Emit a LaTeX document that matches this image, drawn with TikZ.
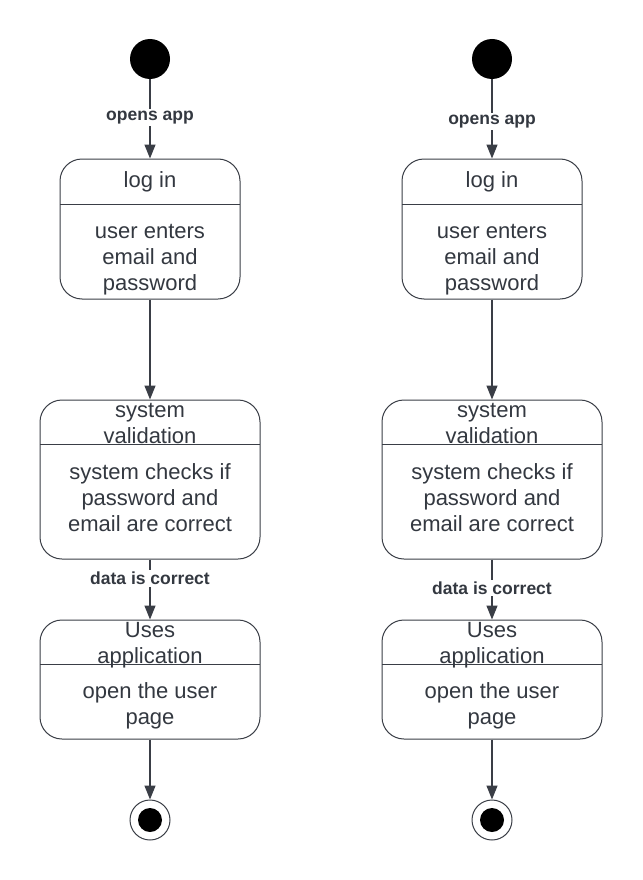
\documentclass[tikz,border=0pt]{standalone}
\usepackage{fontspec}
\setmainfont{Liberation Sans}
\usetikzlibrary{arrows.meta}
\definecolor{ink}{RGB}{51,56,64}
\definecolor{edgec}{RGB}{58,62,70}
\begin{document}
\begin{tikzpicture}[x=1pt,y=-1pt,
  statebox/.style={draw=edgec, line width=1pt, rounded corners=22pt, inner sep=0pt},
  divline/.style={draw=edgec, line width=1pt},
  ttl/.style={font=\fontsize{22}{26}\selectfont, text=ink, align=center, anchor=base, inner sep=0pt},
  lbl/.style={font=\fontsize{17.5}{20}\selectfont\bfseries, text=ink, fill=white, inner sep=2pt},
  flow/.style={draw=edgec, line width=1.3pt, -{Triangle[length=14pt,width=11pt]}},
  initst/.style={circle, fill=black, minimum size=40pt, inner sep=0pt},
  finst/.style={circle, draw=edgec, line width=1pt, minimum size=40pt, inner sep=0pt},
  finin/.style={circle, fill=black, minimum size=24pt, inner sep=0pt}]
\useasboundingbox (0,0) rectangle (642,880);
\fill[white] (0,0) rectangle (642,880);

% ---------- left diagram ----------
\node[initst] (initL) at (150,59) {};
\node[statebox, minimum width=180pt, minimum height=140pt] (loginL) at (150,229) {};
\draw[divline] (60,204) -- (240,204);
\node[ttl] (tLoginL) at (150,187) {log in};
\node[ttl] (bLoginL) at (150,290) {user enters\\email and\\password};

\node[statebox, minimum width=220pt, minimum height=159pt] (valL) at (150,479.5) {};
\draw[divline] (40,444) -- (260,444);
\node[ttl] (tValL) at (150,443) {system\\validation};
\node[ttl] (bValL) at (150,531) {system checks if\\password and\\email are correct};

\node[statebox, minimum width=220pt, minimum height=119pt] (useL) at (150,679.5) {};
\draw[divline] (40,664) -- (260,664);
\node[ttl] (tUseL) at (150,663) {Uses\\application};
\node[ttl] (bUseL) at (150,724) {open the user\\page};

\node[finst] (endL) at (150,820) {};
\node[finin] (endLi) at (150,820) {};

\draw[flow] (initL) -- node[lbl, pos=0.48] (lOpenL) {opens app} (loginL);
\draw[flow] (loginL) -- (valL);
\draw[flow] (valL) -- node[lbl, pos=0.31] (lDataL) {data is correct} (useL);
\draw[flow] (useL) -- (endL);

% ---------- right diagram ----------
\node[initst] (initR) at (492,59) {};
\node[statebox, minimum width=180pt, minimum height=140pt] (loginR) at (492,229) {};
\draw[divline] (402,204) -- (582,204);
\node[ttl] (tLoginR) at (492,187) {log in};
\node[ttl] (bLoginR) at (492,290) {user enters\\email and\\password};

\node[statebox, minimum width=220pt, minimum height=159pt] (valR) at (492,479.5) {};
\draw[divline] (382,444) -- (602,444);
\node[ttl] (tValR) at (492,443) {system\\validation};
\node[ttl] (bValR) at (492,531) {system checks if\\password and\\email are correct};

\node[statebox, minimum width=220pt, minimum height=119pt] (useR) at (492,679.5) {};
\draw[divline] (382,664) -- (602,664);
\node[ttl] (tUseR) at (492,663) {Uses\\application};
\node[ttl] (bUseR) at (492,724) {open the user\\page};

\node[finst] (endR) at (492,820) {};
\node[finin] (endRi) at (492,820) {};

\draw[flow] (initR) -- node[lbl, pos=0.53] (lOpenR) {opens app} (loginR);
\draw[flow] (loginR) -- (valR);
\draw[flow] (valR) -- node[lbl, pos=0.475] (lDataR) {data is correct} (useR);
\draw[flow] (useR) -- (endR);
\end{tikzpicture}
\end{document}
